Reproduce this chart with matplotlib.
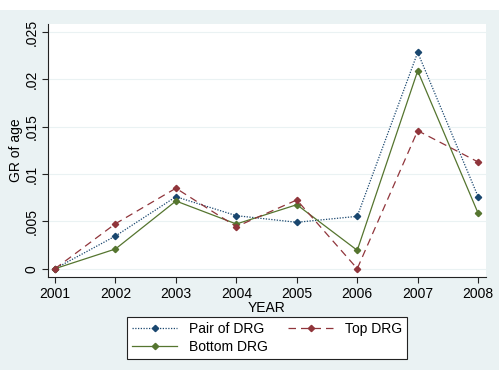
import matplotlib
matplotlib.use("Agg")
import matplotlib.pyplot as plt
from matplotlib.patches import Rectangle

plt.rcParams['font.family'] = ['Liberation Sans', 'DejaVu Sans']

years = [2001, 2002, 2003, 2004, 2005, 2006, 2007, 2008]
pair_drg = [0.0, 0.00345, 0.0076, 0.0056, 0.0049, 0.00553, 0.02285, 0.0076]
top_drg = [0.0, 0.00475, 0.0085, 0.00444, 0.00726, 0.0, 0.01458, 0.01127]
bottom_drg = [0.0, 0.00208, 0.00715, 0.00472, 0.00676, 0.00194, 0.0209, 0.00585]
yticks = [0, 0.005, 0.01, 0.015, 0.02, 0.025]
ytick_labels = ["0", ".005", ".01", ".015", ".02", ".025"]

bg = '#EAF2F3'
fig = plt.figure(figsize=(4.99, 3.70), dpi=100, facecolor=bg)
fig.patches.append(Rectangle((0, 1 - 10/370), 1, 10/370, transform=fig.transFigure,
                             facecolor='white', edgecolor='none', zorder=-1))
ax = fig.add_axes([48/499, 1 - 277/370, (486 - 48)/499, (277 - 24)/370])
ax.set_facecolor('white')

ax.plot(years, pair_drg, color='#1a476f', linestyle=(0, (1, 1.2)), linewidth=0.9,
        marker='D', markersize=3.2, label='Pair of DRG')
ax.plot(years, bottom_drg, color='#55752f', linestyle='-', linewidth=0.9,
        marker='D', markersize=3.2, label='Bottom DRG')
ax.plot(years, top_drg, color='#90353b', linestyle=(0, (6, 4)), linewidth=0.9,
        marker='D', markersize=3.2, label='Top DRG')

ax.set_xlim(2000.884, 2008.13)
ax.set_ylim(-0.00088, 0.02585)
ax.set_xticks(years)
ax.set_xticklabels([str(y) for y in years], fontsize=10)
ax.set_yticks(yticks)
ax.set_yticklabels(ytick_labels, fontsize=10, rotation=90, va='center')
ax.grid(axis='y', color=bg, linewidth=0.8)
ax.set_axisbelow(True)
for s in ['top', 'right']:
    ax.spines[s].set_visible(False)
for s in ['left', 'bottom']:
    ax.spines[s].set_color('#222222')
    ax.spines[s].set_linewidth(0.8)
ax.tick_params(length=4, width=0.8, color='#222222', pad=3)
ax.set_xlabel('YEAR', fontsize=10, labelpad=0)
ax.set_ylabel('GR of age', fontsize=10, labelpad=1)

leg = fig.legend(loc='center', bbox_to_anchor=(267/499, 1 - 338/370), ncol=2,
                 fontsize=10, frameon=True, fancybox=False, edgecolor='#222222',
                 framealpha=1, handlelength=3.3, columnspacing=1.5,
                 borderpad=0.35, labelspacing=0.25)
leg.get_frame().set_linewidth(0.8)

fig.savefig('out.png', dpi=100, facecolor=bg)
